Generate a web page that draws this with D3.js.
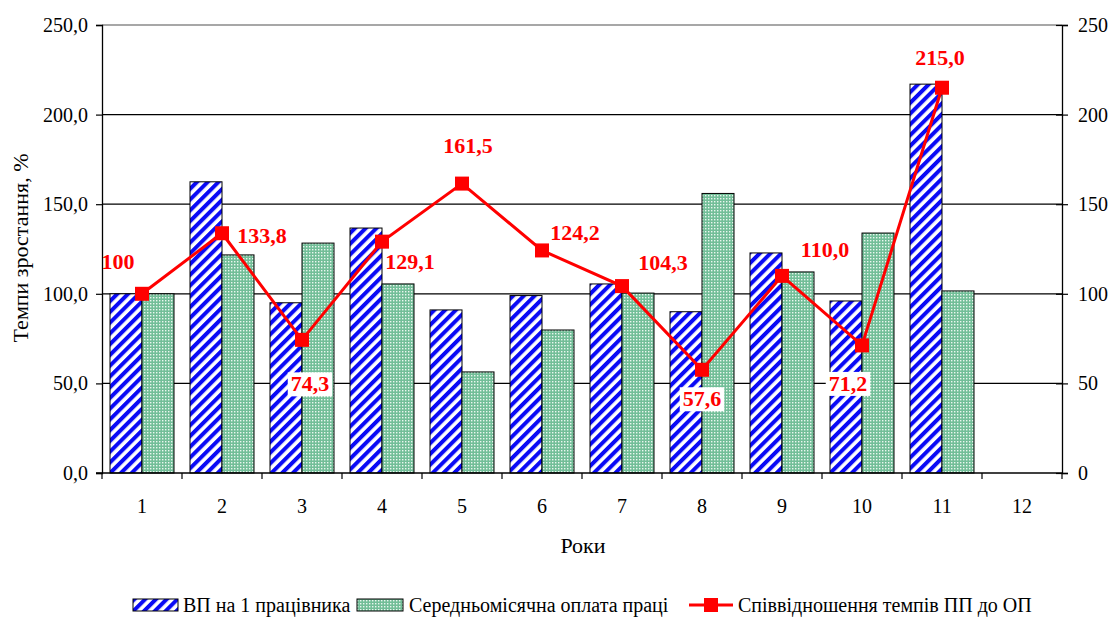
<!DOCTYPE html>
<html>
<head>
<meta charset="utf-8">
<script src="https://cdn.jsdelivr.net/npm/d3@7"></script>
<style>
  html, body { margin: 0; padding: 0; background: #fff; }
</style>
</head>
<body>
<svg id="chart" width="1112" height="617" font-family="Liberation Serif"></svg>
<script>
// Роки
const years = [1, 2, 3, 4, 5, 6, 7, 8, 9, 10, 11, 12];
// ВП на 1 працівника, %
const vpValues = [100, 162.5, 95, 136.7, 91, 99, 105.5, 90, 122.8, 96, 217, null];
// Середньомісячна оплата праці, %
const opValues = [100, 121.7, 128.3, 105.5, 56.4, 79.8, 100.4, 156, 112.2, 133.9, 101.6, null];
// Співвідношення темпів ПП до ОП
const ratioValues = [100, 133.8, 74.3, 129.1, 161.5, 124.2, 104.3, 57.6, 110.0, 71.2, 215.0, null];
const ratioLabels = ["100", "133,8", "74,3", "129,1", "161,5", "124,2", "104,3", "57,6", "110,0", "71,2", "215,0"];
const yTicks = [0, 50, 100, 150, 200, 250];
const seriesNames = ["ВП на 1 працівника", "Середньомісячна оплата праці", "Співвідношення темпів ПП до ОП"];

const FONT = "Liberation Serif";
const svg = d3.select("#chart");
const m = { left: 102, right: 1062, top: 25, bottom: 473 };

const defs = svg.append("defs");
// diagonal blue/white stripes
const stripes = defs.append("pattern")
  .attr("id", "stripes").attr("patternUnits", "userSpaceOnUse")
  .attr("width", 7.6).attr("height", 7.6)
  .attr("patternTransform", "rotate(45)");
stripes.append("rect").attr("width", 7.6).attr("height", 7.6).attr("fill", "#fff");
stripes.append("rect").attr("width", 4).attr("height", 7.6).attr("fill", "#0a0af5");
// fine green/white check
const dots = defs.append("pattern")
  .attr("id", "dots").attr("patternUnits", "userSpaceOnUse")
  .attr("width", 3).attr("height", 3);
dots.append("rect").attr("width", 3).attr("height", 3).attr("fill", "#72be98");
dots.append("rect").attr("width", 1.4).attr("height", 1.4).attr("fill", "#eaf7ef");

const x = d3.scaleBand().domain(years).range([m.left, m.right]).padding(0);
const sub = d3.scaleBand().domain(["vp", "op"]).range([0, x.bandwidth()])
  .paddingInner(0).paddingOuter(0.25);
const y = d3.scaleLinear().domain([0, 250]).range([m.bottom, m.top]);

// grid lines
svg.append("g").selectAll("line").data(yTicks.filter(t => t > 0 && t < 250)).join("line")
  .attr("x1", m.left).attr("x2", m.right)
  .attr("y1", d => y(d)).attr("y2", d => y(d))
  .attr("stroke", "#000").attr("stroke-width", 1.2);
svg.append("line").attr("x1", m.left).attr("x2", m.right)
  .attr("y1", y(250)).attr("y2", y(250)).attr("stroke", "#8a8a8a").attr("stroke-width", 1.5);

// bars
const barData = [];
years.forEach((yr, i) => {
  if (vpValues[i] != null) barData.push({ yr, key: "vp", v: vpValues[i] });
  if (opValues[i] != null) barData.push({ yr, key: "op", v: opValues[i] });
});
svg.append("g").selectAll("rect").data(barData).join("rect")
  .attr("x", d => x(d.yr) + sub(d.key))
  .attr("width", sub.bandwidth())
  .attr("y", d => y(d.v))
  .attr("height", d => y(0) - y(d.v))
  .attr("fill", d => d.key === "vp" ? "url(#stripes)" : "url(#dots)")
  .attr("stroke", "#000").attr("stroke-width", 1);

// axes
const fmtLeft = d => d3.format(".1f")(d).replace(".", ",");
const leftAxis = svg.append("g").attr("transform", `translate(${m.left},0)`)
  .call(d3.axisLeft(y).tickValues(yTicks).tickFormat(fmtLeft).tickSize(6).tickPadding(8));
const rightAxis = svg.append("g").attr("transform", `translate(${m.right},0)`)
  .call(d3.axisRight(y).tickValues(yTicks).tickFormat(d3.format("d")).tickSize(6).tickPadding(10));
rightAxis.selectAll(".tick line").attr("x1", -6);
const bottomAxis = svg.append("g").attr("transform", `translate(0,${m.bottom})`)
  .call(d3.axisBottom(x).tickSize(0).tickPadding(26));
// tick marks on category boundaries
bottomAxis.append("g").selectAll("line").data(d3.range(years.length + 1)).join("line")
  .attr("x1", i => m.left + i * x.step()).attr("x2", i => m.left + i * x.step())
  .attr("y1", 0).attr("y2", 6).attr("stroke", "#000").attr("stroke-width", 1.2);

[leftAxis, rightAxis, bottomAxis].forEach(g => {
  g.attr("font-family", FONT).attr("font-size", 20);
  g.selectAll("path.domain").attr("stroke", "#000").attr("stroke-width", 1.3);
  g.selectAll(".tick line").attr("stroke", "#000").attr("stroke-width", 1.2);
  g.selectAll("text").attr("font-family", FONT).attr("font-size", 20).attr("fill", "#000");
});
bottomAxis.select("path.domain").attr("d", `M${m.left - 6},0H${m.right}`);

// ratio line
const pts = years.map((yr, i) => ({ yr, v: ratioValues[i], i })).filter(d => d.v != null);
svg.append("path").datum(pts)
  .attr("d", d3.line().x(d => x(d.yr) + x.bandwidth() / 2).y(d => y(d.v)))
  .attr("fill", "none").attr("stroke", "#ff0000").attr("stroke-width", 3);
svg.append("g").selectAll("rect").data(pts).join("rect")
  .attr("x", d => x(d.yr) + x.bandwidth() / 2 - 7)
  .attr("y", d => y(d.v) - 7)
  .attr("width", 14).attr("height", 14).attr("fill", "#ff0000");

// value labels: offset of text centre from its point
const labelOffset = [[-24, -32], [40, 2], [8, 44], [28, 20], [6, -38], [33, -18],
                     [41, -24], [0, 29], [43, -26], [-14, 38], [-2, -30]];
const boxed = new Set([2, 7, 9]);
const lbl = svg.append("g");
pts.forEach(d => {
  const cx = x(d.yr) + x.bandwidth() / 2 + labelOffset[d.i][0];
  const cy = y(d.v) + labelOffset[d.i][1];
  const t = lbl.append("text").attr("x", cx).attr("y", cy + 7.5)
    .attr("text-anchor", "middle")
    .attr("font-family", FONT).attr("font-weight", "bold")
    .attr("font-size", 22).attr("fill", "#ff0000").text(ratioLabels[d.i]);
  if (boxed.has(d.i)) {
    const b = t.node().getBBox();
    lbl.insert("rect", () => t.node())
      .attr("x", b.x - 3).attr("y", b.y + 1).attr("width", b.width + 6).attr("height", b.height - 1)
      .attr("fill", "#fff");
  }
});

// axis titles
svg.append("text").attr("x", 583).attr("y", 553).attr("text-anchor", "middle")
  .attr("font-family", FONT).attr("font-size", 22).text("Роки");
svg.append("text").attr("transform", "translate(28,248) rotate(-90)").attr("text-anchor", "middle")
  .attr("font-family", FONT).attr("font-size", 22).text("Темпи зростання, %");

// legend
const lg = svg.append("g");
const ly = 605;
lg.append("rect").attr("x", 133).attr("y", ly - 6).attr("width", 45).attr("height", 12)
  .attr("fill", "url(#stripes)").attr("stroke", "#000");
lg.append("rect").attr("x", 357).attr("y", ly - 6).attr("width", 46).attr("height", 12)
  .attr("fill", "url(#dots)").attr("stroke", "#000");
lg.append("line").attr("x1", 689).attr("x2", 733).attr("y1", ly).attr("y2", ly)
  .attr("stroke", "#ff0000").attr("stroke-width", 3);
lg.append("rect").attr("x", 704).attr("y", ly - 7).attr("width", 14).attr("height", 14).attr("fill", "#ff0000");
lg.selectAll("text").data([[183, 0], [409, 1], [738, 2]]).join("text")
  .attr("x", d => d[0]).attr("y", ly + 7)
  .attr("font-family", FONT).attr("font-size", 20).attr("fill", "#000")
  .text(d => seriesNames[d[1]]);
</script>
</body>
</html>
